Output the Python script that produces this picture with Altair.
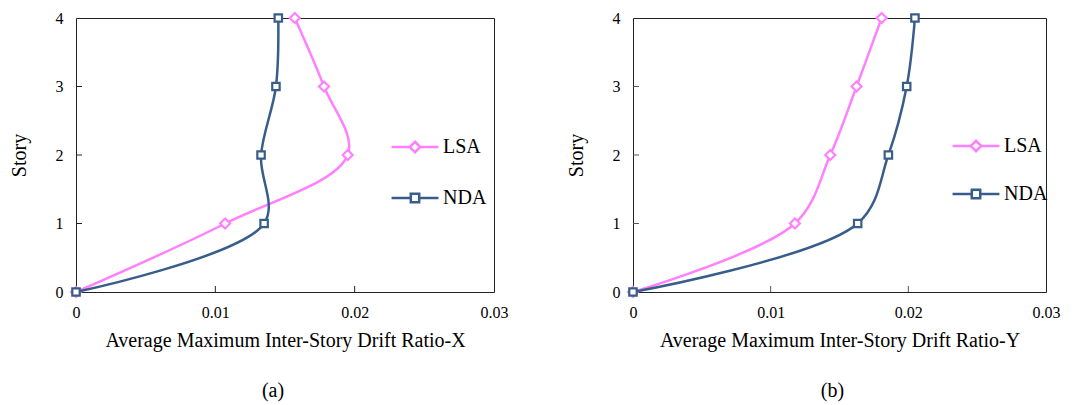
import altair as alt
import pandas as pd

story = [0, 1, 2, 3, 4]
series = ["LSA", "NDA"]
lsa_x = [0.0, 0.0107, 0.0195, 0.0178, 0.0157]
nda_x = [0.0, 0.0135, 0.01328, 0.01435, 0.01452]
lsa_y = [0.0, 0.01176, 0.01433, 0.01624, 0.01806]
nda_y = [0.0, 0.01632, 0.01855, 0.01988, 0.02048]
x_ticks = [0, 0.01, 0.02, 0.03]
y_ticks = [0, 1, 2, 3, 4]
inner_x_ticks = [0.01, 0.02]
inner_y_ticks = [1, 2, 3]

FONT = "Liberation Serif"
COLORS = {"LSA": "#ff80ff", "NDA": "#385d8a"}
SHAPES = {"LSA": "diamond", "NDA": "square"}
SIZES = {"LSA": 100, "NDA": 55}
PATHS = {
    "LSA": "M-3.35,0L-0.75,0M0.75,0L3.35,0M0,-0.75L0.75,0L0,0.75L-0.75,0Z",
    "NDA": "M-3.35,0L-0.6,0M0.6,0L3.35,0M-0.6,-0.6L0.6,-0.6L0.6,0.6L-0.6,0.6Z",
}


def panel(vals, xtitle, tag, width, height, leg_x, leg_ys, frame, tag_dx):
    xenc = alt.X("drift:Q", scale=alt.Scale(domain=[0, 0.03], nice=False),
                 axis=alt.Axis(values=x_ticks, format="~g", title=xtitle,
                               ticks=False, domain=False, grid=False, labelFlush=False,
                               labelFont=FONT, labelFontSize=16,
                               labelPadding=12, titlePadding=10))
    yenc = alt.Y("story:Q", scale=alt.Scale(domain=[0, 4], nice=False),
                 axis=alt.Axis(values=y_ticks, format="d", title="Story", ticks=False,
                               domain=False, grid=False, labelFlush=False,
                               labelFont=FONT, labelFontSize=16,
                               labelPadding=13, titlePadding=26))
    layers = [
        alt.Chart(pd.DataFrame({"t": inner_x_ticks})).mark_rule(color=frame, strokeWidth=1).encode(
            x=alt.X("t:Q"), y=alt.value(height), y2=alt.value(height - 6)),
        alt.Chart(pd.DataFrame({"t": inner_y_ticks})).mark_rule(color=frame, strokeWidth=1).encode(
            y=alt.Y("t:Q"), x=alt.value(0), x2=alt.value(6)),
    ]
    for s, v, ly in zip(series, vals, leg_ys):
        df = pd.DataFrame({"series": s, "story": story, "drift": v})
        cscale = alt.Scale(domain=[s], range=[COLORS[s]])
        legend = alt.Legend(
            orient="none", legendX=leg_x, legendY=ly, title=None,
            labelFont=FONT, labelFontSize=20, labelColor="black",
            symbolType=PATHS[s], symbolSize=196, symbolStrokeWidth=2.5,
            symbolFillColor="white", symbolStrokeColor=COLORS[s], symbolOpacity=1,
            labelOffset=18, padding=0,
        )
        layers.append(alt.Chart(df).mark_line(interpolate="catmull-rom", strokeWidth=2.5).encode(
            x=xenc, y=yenc,
            color=alt.Color("series:N", scale=cscale, legend=legend),
            order=alt.Order("story:Q"),
        ))
        layers.append(alt.Chart(df).mark_point(
            filled=False, fill="white", strokeWidth=2.2, opacity=1,
            shape=SHAPES[s], size=SIZES[s], color=COLORS[s]).encode(
            x="drift:Q", y="story:Q"))
    return alt.layer(*layers).resolve_scale(color="independent").properties(
        width=width, height=height,
        title=alt.TitleParams(tag, orient="bottom", font=FONT, fontSize=20,
                              fontWeight="normal", offset=31, dx=tag_dx, color="black"),
    )


pa = panel([lsa_x, nda_x], "Average  Maximum  Inter-Story  Drift  Ratio-X", "(a)",
           418, 274, 329, [119, 170], "#222222", -12)
pb = panel([lsa_y, nda_y], "Average  Maximum  Inter-Story  Drift  Ratio-Y", "(b)",
           413, 274, 333, [118, 166], "#555555", -7)

chart = alt.hconcat(pa, pb, spacing=56).resolve_scale(color="independent").configure_axis(
    labelFont=FONT, labelFontSize=16, labelColor="black",
    titleFont=FONT, titleFontSize=20, titleFontWeight="normal", titleColor="black",
).configure_view(stroke="#222222", strokeWidth=1).properties(
    padding={"left": 0, "top": 0, "right": 5, "bottom": 0}
)

chart.save("out.html", embed_options={"renderer": "svg", "actions": False})
